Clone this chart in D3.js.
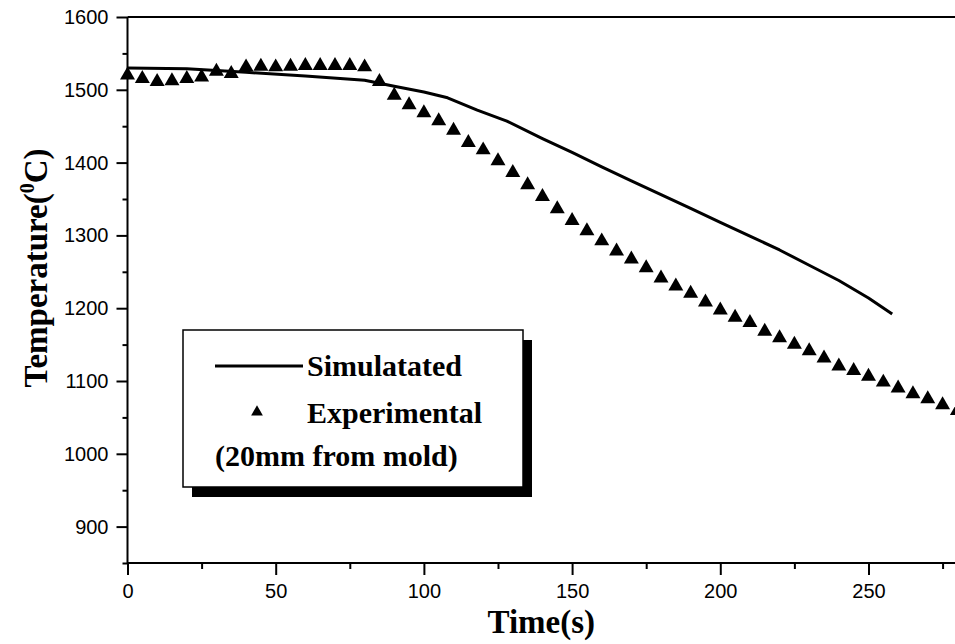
<!DOCTYPE html>
<html>
<head>
<meta charset="utf-8">
<title>Temperature vs Time</title>
<script src="https://d3js.org/d3.v7.min.js"></script>
<style>
body {
  margin: 0;
  padding: 0;
  background-color: white;
}
.tick text {
  font-family: "Liberation Sans", Arial, sans-serif;
  font-size: 20px;
  fill: black;
}
.tick line, .domain {
  stroke: black;
  stroke-width: 2px;
}
.title {
  font-family: "Liberation Serif", "Times New Roman", serif;
  font-weight: bold;
  fill: black;
}
</style>
</head>
<body>
<svg id="chart" width="955" height="644"></svg>
<script>

//1.data
var simTime = [0, 20, 40, 60, 80, 90, 100, 108, 118, 128, 140, 150, 160, 170, 180, 190, 200, 210, 220, 230, 240, 250, 258];
var simTemp = [1530, 1529, 1524, 1519, 1513, 1505, 1497, 1489, 1472, 1457, 1433, 1414, 1394, 1375, 1356, 1337, 1318, 1299, 1280, 1259, 1238, 1214, 1192];

var expTime = [0, 5, 10, 15, 20, 25, 30, 35, 40, 45, 50, 55, 60, 65, 70, 75, 80, 85, 90, 95,
               100, 105, 110, 115, 120, 125, 130, 135, 140, 145, 150, 155, 160, 165, 170, 175, 180, 185, 190, 195,
               200, 205, 210, 215, 220, 225, 230, 235, 240, 245, 250, 255, 260, 265, 270, 275, 280];
var expTemp = [1523, 1518, 1514, 1515, 1518, 1520, 1528, 1525, 1534, 1535, 1534, 1535, 1536, 1536, 1536, 1536, 1534, 1514, 1495, 1482,
               1471, 1460, 1447, 1430, 1420, 1405, 1389, 1372, 1356, 1339, 1323, 1309, 1295, 1281, 1270, 1258, 1244, 1233, 1223, 1211,
               1200, 1190, 1183, 1171, 1162, 1153, 1144, 1134, 1123, 1117, 1109, 1101, 1093, 1085, 1078, 1070, 1062];

var xMajor = [0, 50, 100, 150, 200, 250];
var xMinor = [25, 75, 125, 175, 225, 275];
var yMajor = [900, 1000, 1100, 1200, 1300, 1400, 1500, 1600];
var yMinor = [850, 950, 1050, 1150, 1250, 1350, 1450, 1550];

var legendLabels = ["Simulatated", "Experimental", "(20mm from mold)"];

//2.set up
var svg = d3.select("#chart");
var plotLeft = 127.5, plotTop = 17, plotBottom = 563;

var x = d3.scaleLinear().domain([0, 280]).range([plotLeft, 957.4]);
var y = d3.scaleLinear().domain([850, 1600]).range([plotBottom, plotTop]);

//3.axes
svg.append("g")
   .attr("transform", "translate(0," + plotBottom + ")")
   .call(d3.axisBottom(x).tickValues(xMinor).tickSize(6).tickSizeOuter(0).tickFormat(""))
   .select(".domain").remove();

svg.append("g")
   .attr("transform", "translate(" + plotLeft + ",0)")
   .call(d3.axisLeft(y).tickValues(yMinor).tickSize(5).tickSizeOuter(0).tickFormat(""))
   .select(".domain").remove();

var gx = svg.append("g")
   .attr("transform", "translate(0," + plotBottom + ")")
   .call(d3.axisBottom(x).tickValues(xMajor).tickSize(12).tickSizeOuter(0).tickPadding(9).tickFormat(d3.format("d")));
gx.select(".domain").attr("d", "M" + plotLeft + ",0H955");

var gy = svg.append("g")
   .attr("transform", "translate(" + plotLeft + ",0)")
   .call(d3.axisLeft(y).tickValues(yMajor).tickSize(11).tickSizeOuter(0).tickPadding(8).tickFormat(d3.format("d")));
gy.select(".domain").attr("d", "M0," + plotTop + "V" + plotBottom);

// top frame line
svg.append("line")
   .attr("x1", plotLeft).attr("x2", 955)
   .attr("y1", plotTop).attr("y2", plotTop)
   .attr("stroke", "black").attr("stroke-width", 2);

// axis titles
svg.append("text")
   .attr("class", "title")
   .attr("x", (plotLeft + 955) / 2)
   .attr("y", 633)
   .attr("text-anchor", "middle")
   .style("font-size", "33px")
   .text("Time(s)");

var yt = svg.append("text")
   .attr("class", "title")
   .attr("transform", "translate(47,268) rotate(-90)")
   .attr("text-anchor", "middle")
   .style("font-size", "33px");
yt.append("tspan").text("Temperature(");
yt.append("tspan").attr("dy", "-13").style("font-size", "20px").text("0");
yt.append("tspan").attr("dy", "13").text("C)");

//4.simulated line
var line = d3.line()
   .x(function(d, i) { return x(simTime[i]); })
   .y(function(d) { return y(d); });

svg.append("path")
   .datum(simTemp)
   .attr("d", line)
   .attr("fill", "none")
   .attr("stroke", "black")
   .attr("stroke-width", 3)
   .attr("stroke-linejoin", "round");

//5.experimental triangles
svg.append("g")
   .selectAll("path")
   .data(expTemp)
   .enter()
   .append("path")
   .attr("d", d3.symbol().type(d3.symbolTriangle).size(97))
   .attr("transform", function(d, i) { return "translate(" + x(expTime[i]) + "," + (y(d) + 2) + ")"; })
   .attr("fill", "black");

//6.legend
var lg = svg.append("g");
lg.append("rect")
   .attr("x", 192).attr("y", 340).attr("width", 340).attr("height", 157)
   .attr("fill", "black");
lg.append("rect")
   .attr("x", 183).attr("y", 330).attr("width", 340).attr("height", 157)
   .attr("fill", "white").attr("stroke", "black").attr("stroke-width", 1.5);

lg.append("line")
   .attr("x1", 215).attr("x2", 303).attr("y1", 366).attr("y2", 366)
   .attr("stroke", "black").attr("stroke-width", 3);
lg.append("path")
   .attr("d", d3.symbol().type(d3.symbolTriangle).size(60))
   .attr("transform", "translate(257,412)")
   .attr("fill", "black");

lg.selectAll("text")
   .data(legendLabels)
   .enter()
   .append("text")
   .attr("class", "title")
   .attr("x", function(d, i) { return i < 2 ? 307 : 215; })
   .attr("y", function(d, i) { return [376, 423, 466][i]; })
   .style("font-size", "30px")
   .text(function(d) { return d; });

</script>
</body>
</html>
